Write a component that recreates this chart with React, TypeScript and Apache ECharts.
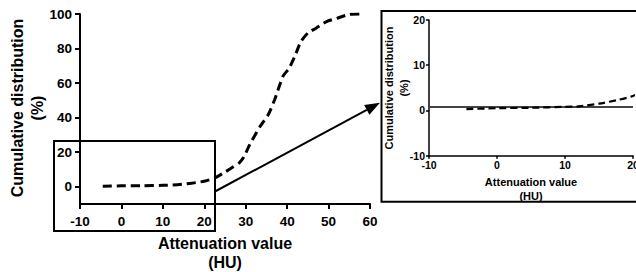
import React, { useEffect, useRef } from "react";
import * as echarts from "echarts";

const curveX = [-4.5, 0, 5, 10, 12, 15, 18, 20, 22.5, 25, 27, 28.5, 29.5, 31, 33.5, 35.5, 37, 39, 40.5, 42, 43.3, 45, 47, 49.5, 52, 55, 57.5];
const curveY = [0.3, 0.5, 0.6, 0.8, 0.9, 1.5, 2.4, 3.2, 5, 8.5, 11.5, 14, 17, 24.5, 35, 42, 50.5, 64, 68.7, 76.4, 84, 89, 91.8, 95.6, 97.5, 99.8, 100];
const mainXTicks = [-10, 0, 10, 20, 30, 40, 50, 60];
const mainYTicks = [0, 20, 40, 60, 80, 100];
const insetRefY = 0.73;
const yTitle = "Cumulative distribution\n(%)";
const xTitle = "Attenuation value\n(HU)";

const FONT = "Arial";

const vTitleStyle = (left: number, top: number, size: number, lh: number): React.CSSProperties => ({
  position: "absolute",
  left,
  top,
  transform: "translate(-50%, -50%) rotate(-90deg)",
  transformOrigin: "50% 50%",
  whiteSpace: "pre",
  textAlign: "center",
  fontFamily: "Arial, 'Liberation Sans', sans-serif",
  fontWeight: "bold",
  fontSize: size,
  lineHeight: `${lh}px`,
  color: "#000",
  pointerEvents: "none",
});

export default function App() {
  const ref = useRef<HTMLDivElement>(null);
  useEffect(() => {
    if (!ref.current) return;
    const chart = echarts.init(ref.current, null, { renderer: "svg" });
    const data = curveX.map((x, i) => [x, curveY[i]]);
    const axisCommon = {
      axisLine: { show: true, onZero: false, lineStyle: { color: "#000", width: 2 } },
      splitLine: { show: false },
    };
    const tipX = 380, tipY = 102.7, sx = 215, sy = 191.5;
    const dx = tipX - sx, dy = tipY - sy;
    const len = Math.hypot(dx, dy);
    const ux = dx / len, uy = dy / len;
    const hl = 15, hw = 5.5;
    const bx = tipX - ux * hl, by = tipY - uy * hl;
    chart.setOption({
      animation: false,
      grid: [
        { left: 80, top: 14, width: 290, height: 190, containLabel: false, outerBoundsMode: "none" },
        { left: 429, top: 20, width: 204, height: 135.7, containLabel: false, outerBoundsMode: "none" },
      ],
      xAxis: [
        {
          gridIndex: 0, type: "value", min: -10, max: 60, interval: 10,
          ...axisCommon,
          axisTick: { show: true, length: 5, lineStyle: { color: "#000", width: 2 }, customValues: mainXTicks },
          axisLabel: { color: "#000", fontSize: 13.5, fontWeight: "bold", fontFamily: FONT, margin: 10, customValues: mainXTicks },
          name: xTitle, nameLocation: "middle", nameGap: 30,
          nameTextStyle: { color: "#000", fontSize: 16, fontWeight: "bold", fontFamily: FONT, lineHeight: 19 },
        },
        {
          gridIndex: 1, type: "value", min: -10, max: 20, interval: 10,
          ...axisCommon,
          axisLine: { show: true, onZero: false, lineStyle: { color: "#000", width: 1.5 } },
          axisTick: { show: true, length: 3, lineStyle: { color: "#000", width: 1.5 } },
          axisLabel: { color: "#000", fontSize: 10.5, fontWeight: "bold", fontFamily: FONT, margin: 4 },
          name: xTitle, nameLocation: "middle", nameGap: 19.5,
          nameTextStyle: { color: "#000", fontSize: 11, fontWeight: "bold", fontFamily: FONT, lineHeight: 14 },
        },
      ],
      yAxis: [
        {
          gridIndex: 0, type: "value", min: -10, max: 100, interval: 10,
          ...axisCommon,
          axisTick: { show: true, length: 5, lineStyle: { color: "#000", width: 2 }, customValues: mainYTicks },
          axisLabel: { color: "#000", fontSize: 13.5, fontWeight: "bold", fontFamily: FONT, margin: 8, customValues: mainYTicks },
        },
        {
          gridIndex: 1, type: "value", min: -10, max: 20, interval: 10,
          ...axisCommon,
          axisLine: { show: true, onZero: false, lineStyle: { color: "#000", width: 1.5 } },
          axisTick: { show: true, length: 3, lineStyle: { color: "#000", width: 1.5 } },
          axisLabel: { color: "#000", fontSize: 10.5, fontWeight: "bold", fontFamily: FONT, margin: 4 },
        },
      ],
      series: [
        {
          type: "line", xAxisIndex: 0, yAxisIndex: 0, data, showSymbol: false, symbol: "none", smooth: 0.2,
          lineStyle: { color: "#000", width: 3, type: [9, 5] }, z: 5,
        },
        {
          type: "line", xAxisIndex: 1, yAxisIndex: 1, data, showSymbol: false, symbol: "none", smooth: 0.2,
          lineStyle: { color: "#000", width: 2.2, type: [7, 4] }, clip: true, z: 5,
          markLine: {
            silent: true, symbol: "none", label: { show: false },
            lineStyle: { color: "#444", width: 1.8, type: "solid" },
            data: [{ yAxis: insetRefY }],
          },
        },
      ],
      graphic: [
        { type: "rect", shape: { x: 54, y: 141, width: 161, height: 90 }, style: { fill: "none", stroke: "#000", lineWidth: 2 }, z: 10 },
        { type: "rect", shape: { x: 381.5, y: 11, width: 260, height: 190.7 }, style: { fill: "none", stroke: "#000", lineWidth: 2 }, z: 10 },
        { type: "line", shape: { x1: sx, y1: sy, x2: bx, y2: by }, style: { stroke: "#000", lineWidth: 2 }, z: 10 },
        {
          type: "polygon",
          shape: { points: [[tipX, tipY], [bx - uy * hw, by + ux * hw], [bx + uy * hw, by - ux * hw]] },
          style: { fill: "#000" }, z: 10,
        },
      ],
    });
    return () => chart.dispose();
  }, []);
  return (
    <div style={{ position: "fixed", left: 0, top: 0, width: 636, height: 272, background: "#fff", overflow: "hidden" }}>
      <div ref={ref} style={{ position: "absolute", left: 0, top: 0, width: 636, height: 272 }} />
      <div style={vTitleStyle(28, 108, 16, 20)}>{yTitle}</div>
      <div style={vTitleStyle(396, 87.5, 11, 14.5)}>{yTitle}</div>
    </div>
  );
}
